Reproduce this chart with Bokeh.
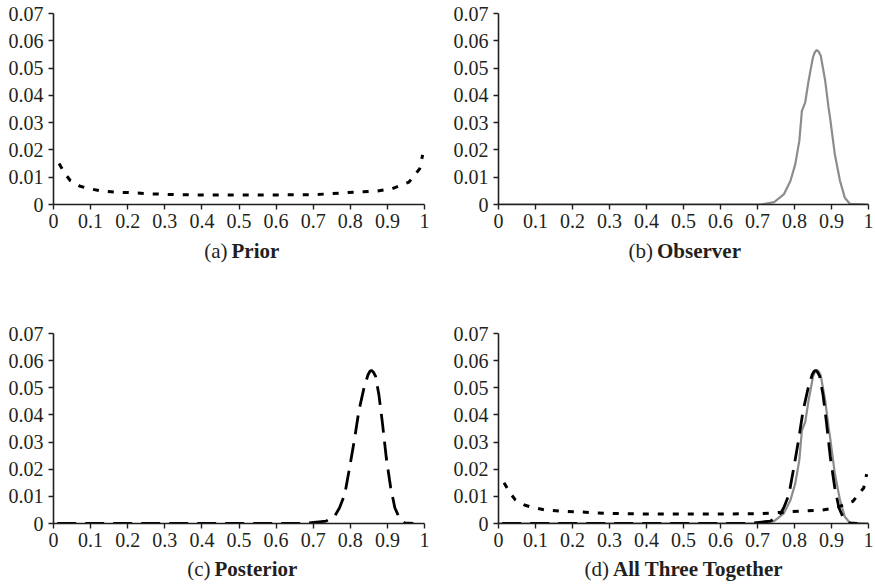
from bokeh.plotting import figure
from bokeh.layouts import column, row
from bokeh.models import FixedTicker
from bokeh.core.properties import value
from bokeh.embed import file_html
from bokeh.resources import INLINE

# ---- data ----
prior_x = [0.015, 0.03, 0.045, 0.07, 0.09, 0.13, 0.175, 0.215, 0.265, 0.305, 0.35,
           0.4, 0.5, 0.6, 0.7, 0.742, 0.782, 0.827, 0.872, 0.913, 0.958, 0.987, 0.995]
prior_y = [0.0150, 0.0115, 0.0088, 0.0068, 0.0060, 0.0049, 0.0045, 0.0043, 0.0039,
           0.0037, 0.0036, 0.0035, 0.0035, 0.0035, 0.0036, 0.0039, 0.0043, 0.0046,
           0.0049, 0.0058, 0.0082, 0.0131, 0.0182]

obs_x = [0.0, 0.70, 0.709, 0.745, 0.771, 0.789, 0.802, 0.813, 0.82, 0.829, 0.838,
         0.85, 0.855, 0.86, 0.865, 0.871, 0.883, 0.892, 0.896, 0.909, 0.923, 0.936,
         0.95, 1.0]
obs_y = [0, 0, 0, 0.0009, 0.0037, 0.0086, 0.0147, 0.0233, 0.0343, 0.0374, 0.0453,
         0.054, 0.0558, 0.0566, 0.0561, 0.0545, 0.0453, 0.0355, 0.0319, 0.0184,
         0.0086, 0.0025, 0.0002, 0]

post_x = [0.01, 0.677, 0.735, 0.758, 0.771, 0.785, 0.798, 0.812, 0.823, 0.837, 0.848,
          0.853, 0.857, 0.862, 0.868, 0.877, 0.886, 0.897, 0.909, 0.92, 0.932, 0.947,
          0.97]
post_y = [0, 0, 0.0009, 0.0027, 0.0058, 0.0107, 0.0205, 0.0316, 0.0414, 0.05, 0.0549,
          0.0561, 0.0564, 0.0558, 0.0543, 0.0475, 0.0377, 0.0242, 0.0131, 0.0058,
          0.0021, 0.0002, 0]

x_ticks = [0, 0.1, 0.2, 0.3, 0.4, 0.5, 0.6, 0.7, 0.8, 0.9, 1]
x_tick_labels = ["0", "0.1", "0.2", "0.3", "0.4", "0.5", "0.6", "0.7", "0.8", "0.9", "1"]
y_ticks = [0, 0.01, 0.02, 0.03, 0.04, 0.05, 0.06, 0.07]
y_tick_labels = ["0", "0.01", "0.02", "0.03", "0.04", "0.05", "0.06", "0.07"]

captions = [("(a)", "Prior"), ("(b)", "Observer"), ("(c)", "Posterior"),
            ("(d)", "All Three Together")]

# ---- styling ----
INK = "#231f20"
FONT = "Liberation Serif"
GRAY = "#8c8c8c"


def make_panel(left, right, top, bottom, fw, fh):
    p = figure(frame_width=fw, frame_height=fh, x_range=(0, 1), y_range=(0, 0.07),
               output_backend="svg", toolbar_location=None,
               min_border_left=left, min_border_right=right,
               min_border_top=top, min_border_bottom=bottom)
    p.outline_line_color = None
    p.grid.visible = False
    p.xaxis.ticker = FixedTicker(ticks=x_ticks)
    p.yaxis.ticker = FixedTicker(ticks=y_ticks)
    p.xaxis.major_label_overrides = dict(zip(x_ticks, x_tick_labels))
    p.yaxis.major_label_overrides = dict(zip(y_ticks, y_tick_labels))
    for ax in (p.xaxis, p.yaxis):
        ax.axis_line_color = INK
        ax.axis_line_width = 1.6
        ax.major_tick_line_color = INK
        ax.major_tick_line_width = 1.4
        ax.major_tick_in = 0
        ax.major_tick_out = 5
        ax.minor_tick_line_color = None
        ax.major_label_text_font = FONT
        ax.major_label_text_font_size = "20px"
        ax.major_label_text_color = INK
    p.xaxis.major_label_standoff = 4
    p.yaxis.major_label_standoff = 5
    return p


def make_caption(left, right, fw, fh, cap, split_off, dy):
    c = figure(frame_width=fw, frame_height=fh, x_range=(0, 1), y_range=(0, 1),
               output_backend="svg", toolbar_location=None,
               x_axis_location=None, y_axis_location=None,
               min_border_left=left, min_border_right=right,
               min_border_top=0, min_border_bottom=0)
    c.outline_line_color = None
    c.grid.visible = False
    c.text(x=[0.5], y=[1], text=[cap[0]], x_offset=split_off - 1.5, y_offset=dy,
           text_align="right", text_baseline="middle", text_font=value(FONT),
           text_font_size="21px", text_color=INK)
    c.text(x=[0.5], y=[1], text=[cap[1]], x_offset=split_off + 2.5, y_offset=dy,
           text_align="left", text_baseline="middle", text_font=value(FONT),
           text_font_size="21px", text_font_style="bold", text_color=INK)
    return c


def draw_prior(p):
    p.line(prior_x, prior_y, line_color="black", line_width=3, line_dash="6 9")


def draw_obs(p):
    p.line(obs_x, obs_y, line_color=GRAY, line_width=2.2)


def draw_post(p):
    p.line(post_x, post_y, line_color="black", line_width=2.8, line_dash="19 9")


# row 1: height 320 (13 + 191 + 34 + 82)
pa = make_panel(53, 16, 13, 34, 371, 191)
draw_prior(pa)
ca = make_caption(53, 16, 371, 82, captions[0], -10, 12)

pb = make_panel(58, 7, 13, 34, 370, 191)
draw_obs(pb)
cb = make_caption(58, 7, 370, 82, captions[1], -29, 12)

# row 2: height 264 (13 + 190 + 34 + 27)
pc = make_panel(53, 16, 13, 34, 371, 190)
draw_post(pc)
cc = make_caption(53, 16, 371, 27, captions[2], -27, 11)

pd = make_panel(58, 7, 13, 34, 370, 190)
draw_obs(pd)
draw_post(pd)
draw_prior(pd)
cd = make_caption(58, 7, 370, 27, captions[3], -73, 11)

layout = column(row(column(pa, ca), column(pb, cb)),
                row(column(pc, cc), column(pd, cd)))

open("out.html", "w").write(file_html(layout, INLINE))
